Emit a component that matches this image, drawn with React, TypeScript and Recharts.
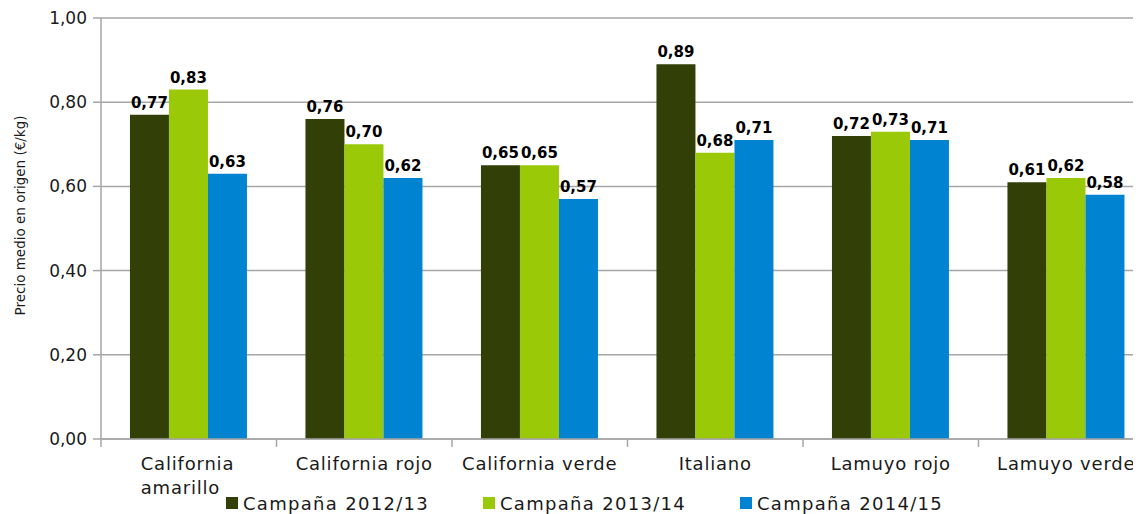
import React from 'react';
import { BarChart, Bar, XAxis, YAxis, CartesianGrid, Legend, LabelList } from 'recharts';

const categories = ['California amarillo', 'California rojo', 'California verde', 'Italiano', 'Lamuyo rojo', 'Lamuyo verde'];
const campana1213 = [0.77, 0.76, 0.65, 0.89, 0.72, 0.61];
const campana1314 = [0.83, 0.70, 0.65, 0.68, 0.73, 0.62];
const campana1415 = [0.63, 0.62, 0.57, 0.71, 0.71, 0.58];
const seriesNames = ['Campaña 2012/13', 'Campaña 2013/14', 'Campaña 2014/15'];
const yTicks = [0, 0.2, 0.4, 0.6, 0.8, 1.0];
const yLabel = 'Precio medio en origen (€/kg)';

const colors = ['#323F07', '#99C907', '#0083D0'];

const data = categories.map((c, i) => ({
  name: c,
  s1: campana1213[i],
  s2: campana1314[i],
  s3: campana1415[i],
}));

const FONT = "'DejaVu Sans', sans-serif";
const W = 1160;
const H = 506;
const MARGIN = { top: 10, right: 14, left: 0, bottom: 0 };
const YW = 93;
const BAND = (W - YW - MARGIN.left - MARGIN.right) / categories.length;

const fmt = (v: any) => Number(v).toFixed(2).replace('.', ',');

const wrap = (s: string): string[] => {
  if (s.length <= 17) return [s];
  const i = s.lastIndexOf(' ');
  return [s.slice(0, i), s.slice(i + 1)];
};

const XTick = (props: any) => {
  const { x, y, payload } = props;
  const half = payload && payload.offset > 2 ? payload.offset : BAND / 2;
  const lines = wrap(String(payload.value));
  const bx = x - half;
  return (
    <g>
      <line x1={bx} x2={bx} y1={y} y2={y + 8} stroke="#A6A6A6" strokeWidth={1.5} />
      <text
        x={x}
        y={y + 31}
        textAnchor="middle"
        fill="#1a1a1a"
        fontSize={18}
        letterSpacing={0.8}
        fontFamily={FONT}
      >
        {lines.map((l, i) => (
          <tspan key={i} x={lines.length > 1 ? x - 48 : x} textAnchor={lines.length > 1 ? 'start' : 'middle'} dy={i === 0 ? 0 : 24}>
            {l}
          </tspan>
        ))}
      </text>
    </g>
  );
};

const LegendContent = () => (
  <div style={{ height: 22, display: 'flex', alignItems: 'center', paddingLeft: 218, fontFamily: FONT }}>
    {seriesNames.map((n, i) => (
      <div key={n} style={{ width: 257, display: 'flex', alignItems: 'center' }}>
        <span style={{ display: 'inline-block', width: 12, height: 12, background: colors[i], marginRight: 5 }} />
        <span style={{ fontSize: 18, letterSpacing: 1.3, color: '#1a1a1a', whiteSpace: 'nowrap' }}>{n}</span>
      </div>
    ))}
  </div>
);

const YLabel = (props: any) => {
  const vb = props.viewBox || {};
  const cx = 12;
  const cy = (vb.y ?? 10) + (vb.height ?? 421) / 2 - 13;
  return (
    <text
      x={cx}
      y={cy}
      transform={`rotate(-90, ${cx}, ${cy})`}
      textAnchor="middle"
      dominantBaseline="central"
      fontSize={13.5}
      fontFamily={FONT}
      fill="#1a1a1a"
    >
      {yLabel}
    </text>
  );
};

export default function App() {
  return (
    <div style={{ width: W, height: H, fontFamily: FONT }}>
      <BarChart width={W} height={H} data={data} margin={MARGIN} barCategoryGap="16.5%" barGap={0}>
        <CartesianGrid vertical={false} stroke="#A6A6A6" strokeWidth={1.5} />
        <XAxis
          dataKey="name"
          height={53}
          tickLine={false}
          tickSize={0}
          tickMargin={0}
          axisLine={{ stroke: '#A6A6A6', strokeWidth: 1.5 }}
          tick={<XTick />}
          interval={0}
        />
        <YAxis
          width={YW}
          domain={[0, 1]}
          ticks={yTicks}
          tickFormatter={fmt}
          tickSize={8}
          tickMargin={6}
          tickLine={{ stroke: '#A6A6A6', strokeWidth: 1.5 }}
          axisLine={{ stroke: '#A6A6A6', strokeWidth: 1.5 }}
          tick={{ fill: '#1a1a1a', fontSize: 17, fontFamily: FONT }}
          label={<YLabel />}
        />
        <Legend verticalAlign="bottom" height={22} content={<LegendContent />} wrapperStyle={{ left: 0, width: W, bottom: 0 }} />
        {(['s1', 's2', 's3'] as const).map((k, i) => (
          <Bar key={k} dataKey={k} name={seriesNames[i]} fill={colors[i]} isAnimationActive={false}>
            <LabelList
              dataKey={k}
              position="top"
              offset={7}
              formatter={fmt}
              style={{ fill: '#000', fontWeight: 'bold', fontSize: 15, fontFamily: FONT }}
            />
          </Bar>
        ))}
      </BarChart>
    </div>
  );
}
